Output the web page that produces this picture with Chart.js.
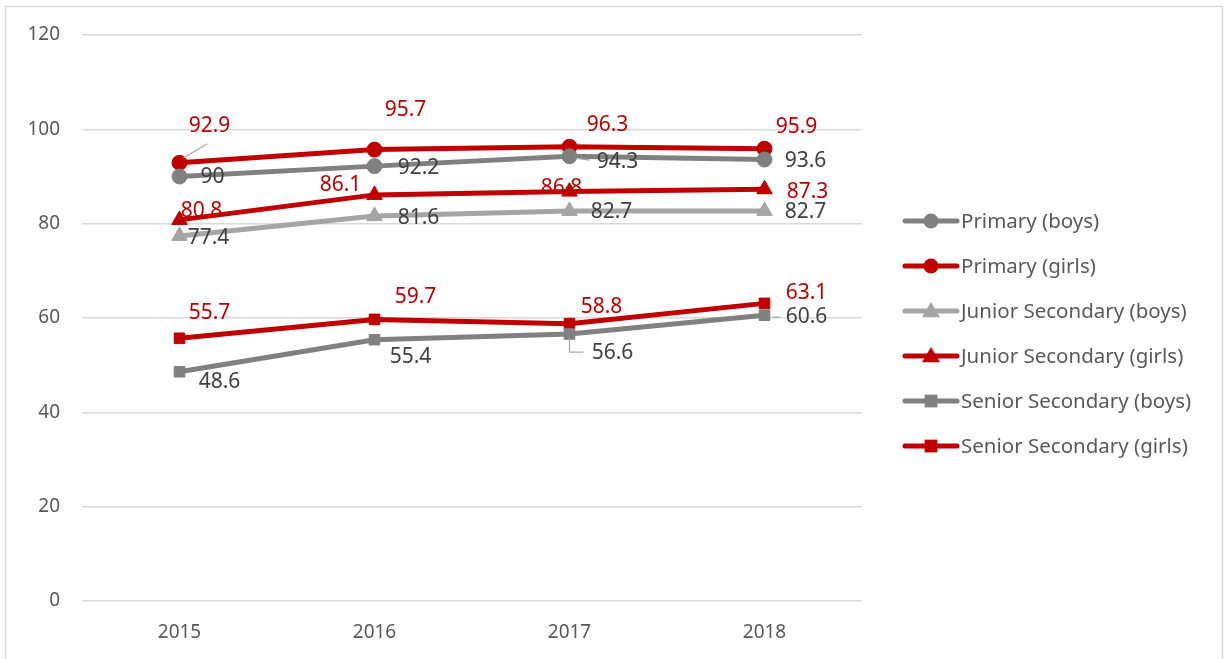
<!DOCTYPE html>
<html>
<head>
<meta charset="utf-8">
<script src="https://cdn.jsdelivr.net/npm/chart.js@4"></script>
<style>
  html, body { margin: 0; padding: 0; background: #fff; }
  #wrap { width: 1224px; height: 659px; position: relative; }
</style>
</head>
<body>
<div id="wrap"><canvas id="enrolChart" width="1224" height="659"></canvas></div>
<script>
// Anni e serie
const years = ['2015', '2016', '2017', '2018'];
const primaryBoys = [90, 92.2, 94.3, 93.6];
const primaryGirls = [92.9, 95.7, 96.3, 95.9];
const juniorBoys = [77.4, 81.6, 82.7, 82.7];
const juniorGirls = [80.8, 86.1, 86.8, 87.3];
const seniorBoys = [48.6, 55.4, 56.6, 60.6];
const seniorGirls = [55.7, 59.7, 58.8, 63.1];
const seriesNames = ['Primary (boys)', 'Primary (girls)', 'Junior Secondary (boys)',
    'Junior Secondary (girls)', 'Senior Secondary (boys)', 'Senior Secondary (girls)'];

const RED = '#C00000';
const GREY = '#808080';
const LIGHT = '#A5A5A5';
const FONT = "'Noto Sans', 'Open Sans', sans-serif";

// label offsets (px) from the point, like Excel's manually moved labels
const labelOffsets = [
    [[33, 1], [44, 2], [48, 6], [41, 1]],
    [[30, -37], [31, -40], [38, -22], [32, -22]],
    [[29, 2], [44, 2], [42, 1], [41, 1]],
    [[22, -9], [-34, -10], [-8, -4], [43, 3]],
    [[40, 10], [36, 17], [43, 19], [42, 2]],
    [[30, -25], [41, -22], [32, -17], [42, -10]]
];
// leader lines: [dataset, index, points relative to marker]
const leaders = [
    [1, 0, [[4, -5], [28, -19]]],
    [0, 2, [[6, 2], [20, 4]]],
    [4, 2, [[0, 4], [0, 18], [14, 18]]],
    [4, 3, [[8, 2], [16, 2]]]
];

function makeSet(label, data, color, style, textColor) {
    return {
        label: label,
        data: data,
        borderColor: color,
        backgroundColor: color,
        borderWidth: 5,
        pointStyle: style,
        pointRadius: style === 'triangle' ? 9 : 7.5,
        pointBorderWidth: 1,
        tension: 0,
        textColor: textColor
    };
}

const datasets = [
    makeSet(seriesNames[0], primaryBoys, GREY, 'circle', '#404040'),
    makeSet(seriesNames[1], primaryGirls, RED, 'circle', RED),
    makeSet(seriesNames[2], juniorBoys, LIGHT, 'triangle', '#404040'),
    makeSet(seriesNames[3], juniorGirls, RED, 'triangle', RED),
    makeSet(seriesNames[4], seniorBoys, GREY, 'rect', '#404040'),
    makeSet(seriesNames[5], seniorGirls, RED, 'rect', RED)
];

function drawMarker(ctx, style, x, y, r, color) {
    ctx.fillStyle = color;
    ctx.beginPath();
    if (style === 'circle') {
        ctx.arc(x, y, r, 0, Math.PI * 2);
    } else if (style === 'triangle') {
        ctx.moveTo(x, y - r);
        ctx.lineTo(x + r, y + r * 0.7);
        ctx.lineTo(x - r, y + r * 0.7);
        ctx.closePath();
    } else {
        ctx.rect(x - r * 0.85, y - r * 0.85, r * 1.7, r * 1.7);
    }
    ctx.fill();
}

const extrasPlugin = {
    id: 'extras',
    beforeDraw(chart) {
        const ctx = chart.ctx;
        ctx.save();
        ctx.strokeStyle = '#d9d9d9';
        ctx.lineWidth = 1.5;
        ctx.beginPath();
        ctx.moveTo(5.5, 659);
        ctx.lineTo(5.5, 6.5);
        ctx.lineTo(1222.5, 6.5);
        ctx.lineTo(1222.5, 659);
        ctx.stroke();
        ctx.restore();
    },
    afterDatasetsDraw(chart) {
        const ctx = chart.ctx;
        ctx.save();
        // leader lines
        ctx.strokeStyle = '#a6a6a6';
        ctx.lineWidth = 1.2;
        leaders.forEach(([di, i, pts]) => {
            const el = chart.getDatasetMeta(di).data[i];
            ctx.beginPath();
            pts.forEach((p, k) => {
                if (k === 0) ctx.moveTo(el.x + p[0], el.y + p[1]);
                else ctx.lineTo(el.x + p[0], el.y + p[1]);
            });
            ctx.stroke();
        });
        // data labels
        ctx.font = '21px ' + FONT;
        ctx.textAlign = 'center';
        ctx.textBaseline = 'middle';
        chart.data.datasets.forEach((ds, di) => {
            const meta = chart.getDatasetMeta(di);
            meta.data.forEach((el, i) => {
                const off = labelOffsets[di][i];
                ctx.fillStyle = ds.textColor;
                ctx.fillText(String(ds.data[i]), el.x + off[0], el.y + off[1]);
            });
        });
        // legend
        const lx = 905, ly0 = 221, step = 45;
        chart.data.datasets.forEach((ds, di) => {
            const y = ly0 + di * step;
            ctx.strokeStyle = ds.borderColor;
            ctx.lineWidth = 5;
            ctx.lineCap = 'round';
            ctx.beginPath();
            ctx.moveTo(lx, y);
            ctx.lineTo(lx + 52, y);
            ctx.stroke();
            drawMarker(ctx, ds.pointStyle, lx + 26, y, ds.pointRadius, ds.borderColor);
            ctx.fillStyle = '#595959';
            ctx.textAlign = 'left';
            ctx.font = '20.5px ' + FONT;
            ctx.fillText(ds.label, lx + 56, y + 1);
        });
        ctx.restore();
    }
};

const config = {
    type: 'line',
    data: { labels: years, datasets: datasets },
    options: {
        responsive: false,
        animation: false,
        layout: { padding: { top: 35, left: 0, right: 362, bottom: 0 } },
        plugins: {
            legend: { display: false },
            tooltip: { enabled: false }
        },
        scales: {
            x: {
                offset: true,
                grid: { display: false, drawTicks: false },
                border: { display: false },
                ticks: { color: '#595959', font: { family: FONT, size: 19 }, padding: 20 },
                afterFit: scale => { scale.height = 58; }
            },
            y: {
                min: 0,
                max: 120,
                ticks: { stepSize: 20, color: '#595959', font: { family: FONT, size: 19 }, padding: 22 },
                grid: { color: '#d9d9d9', lineWidth: 1.5, drawTicks: false },
                border: { display: false },
                afterFit: scale => { scale.width = 82; }
            }
        }
    },
    plugins: [extrasPlugin]
};

const enrolChart = new Chart(document.getElementById('enrolChart'), config);
</script>
</body>
</html>
